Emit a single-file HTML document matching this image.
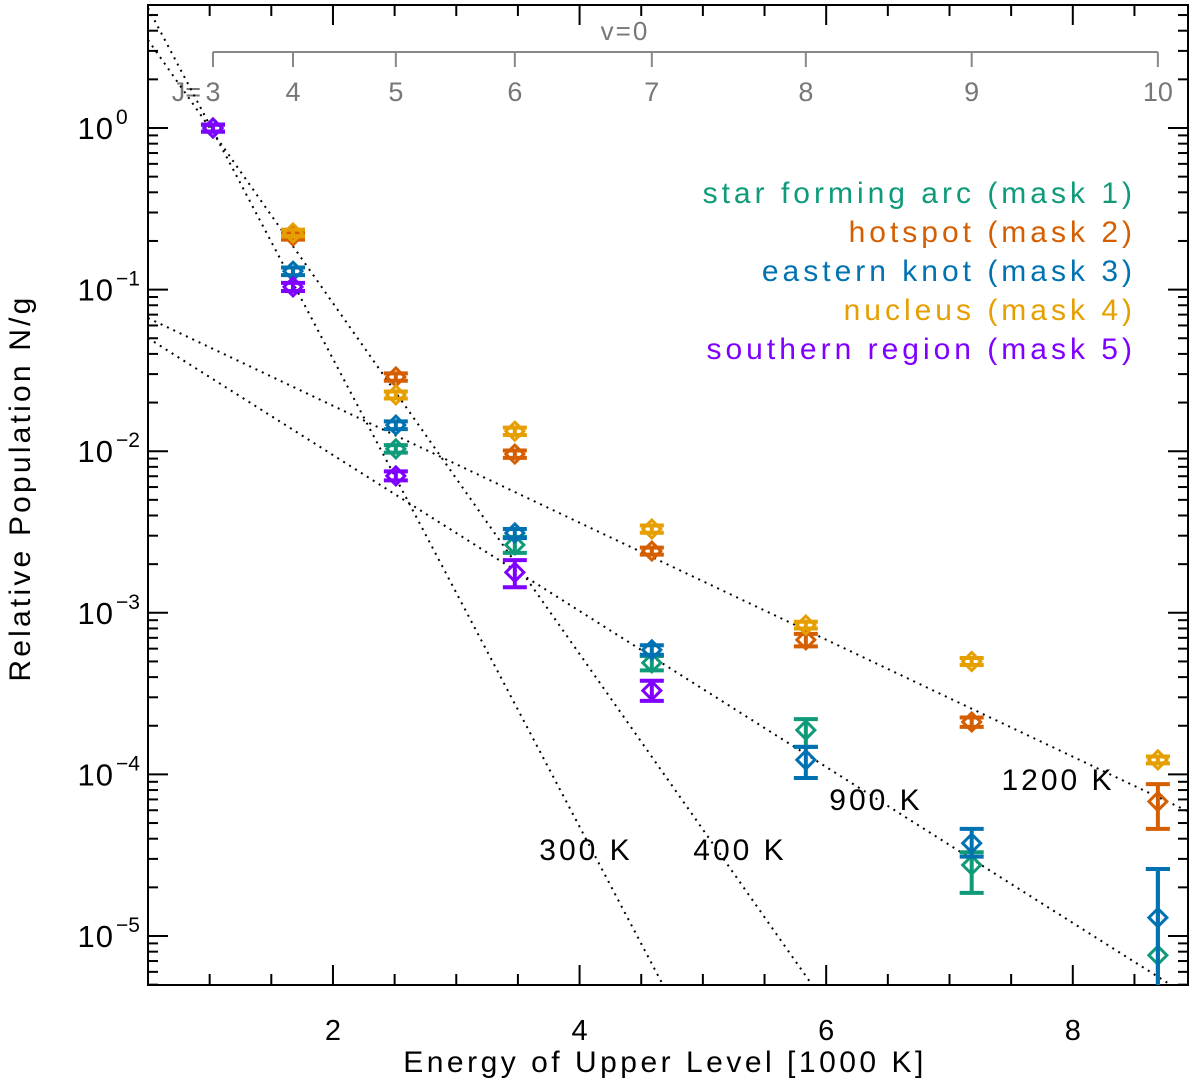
<!DOCTYPE html>
<html><head><meta charset="utf-8"><style>
html,body{margin:0;padding:0;background:#fff;overflow:hidden;width:1200px;height:1082px}
svg{display:block;font-family:"Liberation Sans","DejaVu Sans",sans-serif}
</style></head><body>
<svg id="chart" width="1200" height="1082" viewBox="0 0 1200 1082" xmlns="http://www.w3.org/2000/svg">
<g id="axes"></g>
<g id="fits"></g>
<g id="marks"></g>
<g id="legend" font-size="30" text-anchor="end" letter-spacing="4">
<text x="1136" y="203" fill="#0F9A7A">star forming arc (mask 1)</text>
<text x="1136" y="242" fill="#D55E00">hotspot (mask 2)</text>
<text x="1136" y="281" fill="#0072B2">eastern knot (mask 3)</text>
<text x="1136" y="320" fill="#E69F00">nucleus (mask 4)</text>
<text x="1136" y="359" fill="#8000FF">southern region (mask 5)</text>
</g>
<text x="665" y="1072" font-size="30" text-anchor="middle" letter-spacing="3.5">Energy of Upper Level [1000 K]</text>
<text x="0" y="0" font-size="30" text-anchor="middle" letter-spacing="3.2" transform="translate(30,488) rotate(-90)">Relative Population N/g</text>
</svg>
<script>
const energies=[1.027,1.676,2.51,3.475,4.586,5.835,7.18,8.69];
const jLabels=["3","4","5","6","7","8","9","10"];
const xTicks=[2,4,6,8];
const yTicks=[0,-1,-2,-3,-4,-5];
const mask1=[1.0,null,0.01033,0.00263,0.00049,0.000188,0.0000275,0.0000076];
const mask1Hi=[1.05,null,0.0109,0.00295,0.00054,0.00022,0.000033,0.000026];
const mask1Lo=[0.95,null,0.0098,0.00235,0.00044,0.000148,0.0000185,0.000001];
const mask2=[null,0.215,0.0288,0.0096,0.00241,0.00068,0.000211,0.000068];
const mask2Hi=[null,0.226,0.0303,0.0101,0.00253,0.00074,0.000225,0.000087];
const mask2Lo=[null,0.204,0.0273,0.0091,0.00229,0.00062,0.000197,0.000046];
const mask3=[1.0,0.13,0.0145,0.00312,0.00059,0.000123,0.0000375,0.000013];
const mask3Hi=[1.05,0.137,0.0153,0.0033,0.00063,0.000148,0.000046,0.000026];
const mask3Lo=[0.95,0.123,0.0137,0.0029,0.00055,0.000095,0.000031,0.000001];
const mask4=[null,0.224,0.0223,0.0133,0.0033,0.00084,0.0005,0.000123];
const mask4Hi=[null,0.235,0.0234,0.014,0.00347,0.00088,0.000525,0.000129];
const mask4Lo=[null,0.213,0.0212,0.0126,0.00313,0.0008,0.000475,0.000117];
const mask5=[1.0,0.104,0.00703,0.00178,0.00033,null,null,null];
const mask5Hi=[1.05,0.11,0.0075,0.00212,0.00038,null,null,null];
const mask5Lo=[0.95,0.098,0.0066,0.00144,0.000285,null,null,null];
const fitTemps=[300,400,900,1200];
const fitIntercepts=[0.743,0.545,-1.30,-1.176];

const NS="http://www.w3.org/2000/svg";
const X0=148,X1=1188,Y0=5,Y1=985;
const EMIN=0.5,EMAX=(1188-86.4)/123.3;
const LTOP=(128-5)/161.6,LBOT=(128-985)/161.6;
function xs(e){return X0+(e-EMIN)/(EMAX-EMIN)*(X1-X0);}
function ysl(l){return Y0+(LTOP-l)/(LTOP-LBOT)*(Y1-Y0);}
function ys(v){return ysl(Math.log10(v));}
function mk(tag,attrs,parent){const el=document.createElementNS(NS,tag);for(const k in attrs)el.setAttribute(k,attrs[k]);parent.appendChild(el);return el;}
const axes=document.getElementById('axes');
let f=mk('rect',{x:X0,y:Y0,width:X1-X0,height:Y1-Y0,fill:'none',stroke:'#000','stroke-width':2},axes);


for(let e=0.5;e<=EMAX+1e-6;e+=0.5){
  const major=Math.abs(e-Math.round(e))<1e-6&&Math.round(e)%2===0;
  const L=major?20:11,x=xs(e);
  let t=mk('line',{x1:x,x2:x,y1:Y1,y2:Y1-L,stroke:'#000','stroke-width':2},axes);
  
  
  let t2=mk('line',{x1:x,x2:x,y1:Y0,y2:Y0+L,stroke:'#000','stroke-width':2},axes);
  
  
}
xTicks.forEach(v=>{
  let t=mk('text',{x:xs(v),y:1040,'font-size':29,'text-anchor':'middle'},axes);t.textContent=v;
  
  
});
for(let d=1;d>=-6;d--){
  for(let m=1;m<=9;m++){
    const l=d+Math.log10(m);
    if(l>LTOP||l<LBOT)continue;
    const L=m===1?20:10,y=ysl(l);
    let t=mk('line',{x1:X0,x2:X0+L,y1:y,y2:y,stroke:'#000','stroke-width':2},axes);
    
    
    let t2=mk('line',{x1:X1,x2:X1-L,y1:y,y2:y,stroke:'#000','stroke-width':2},axes);
    
    
  }
}
yTicks.forEach(l=>{
  const y=ysl(l);
  let t=mk('text',{x:114,y:y+11,'font-size':31,'text-anchor':'end','letter-spacing':1},axes);t.textContent='10';
  
  
  let s=mk('text',{x:116,y:y-4,'font-size':21,'text-anchor':'start'},axes);s.textContent=(l===0?'0':'\u2212'+(-l));
  
  
});
let ja=mk('line',{x1:xs(energies[0]),x2:xs(energies[energies.length-1]),y1:52,y2:52,stroke:'#888','stroke-width':2},axes);


energies.forEach((e,i)=>{
  let t=mk('line',{x1:xs(e),x2:xs(e),y1:52,y2:67,stroke:'#888','stroke-width':2},axes);
  
  
  let lb=mk('text',{x:xs(e),y:101,'font-size':27,'text-anchor':'middle',fill:'#777'},axes);lb.textContent=jLabels[i];
  
  
});
let jl=mk('text',{x:xs(energies[0])-12,y:101,'font-size':27,'text-anchor':'end',fill:'#777'},axes);jl.textContent='J=';


let vl=mk('text',{x:625,y:40,'font-size':26,'text-anchor':'middle',fill:'#777','letter-spacing':2},axes);vl.textContent='v=0';


const fits=document.getElementById('fits');
const cp=mk('clipPath',{id:'clip'},fits);mk('rect',{x:X0,y:Y0,width:X1-X0,height:Y1-Y0},cp);
fitTemps.forEach((T,i)=>{
  const slope=-1000/T*Math.LOG10E;
  const l0=fitIntercepts[i],l1=l0+slope*(EMAX-EMIN);
  let ln=mk('line',{x1:xs(EMIN),y1:ysl(l0),x2:xs(EMAX),y2:ysl(l1),stroke:'#000','stroke-width':2,'stroke-dasharray':'2 5','clip-path':'url(#clip)'},fits);
  
  
});
const lab=[[586,860,'300 K'],[740,860,'400 K'],[876,810,'900 K'],[1058,790,'1200 K']];
lab.forEach(a=>{
  let t=mk('text',{x:a[0],y:a[1],'font-size':30,'text-anchor':'middle','letter-spacing':3},fits);t.textContent=a[2];
  
  
});
const marks=document.getElementById('marks');
const series=[[mask1,mask1Hi,mask1Lo,'#0F9A7A','mask1'],[mask2,mask2Hi,mask2Lo,'#D55E00','mask2'],[mask3,mask3Hi,mask3Lo,'#0072B2','mask3'],[mask4,mask4Hi,mask4Lo,'#E69F00','mask4'],[mask5,mask5Hi,mask5Lo,'#8000FF','mask5']];
series.forEach(s=>{
  const g=mk('g',{},marks);
  
  
  s[0].forEach((v,i)=>{
    if(v===null)return;
    const x=xs(energies[i]),y=ys(v);
    const yh=ys(s[1][i]),yl=Math.min(ys(s[2][i]),Y1);
    let eb=mk('path',{d:`M${x-12},${yh}H${x+12}M${x},${yh}V${yl}`+(yl<Y1?`M${x-12},${yl}H${x+12}`:''),stroke:s[3],'stroke-width':4,fill:'none'},g);
    
    
    let d=mk('path',{d:`M${x},${y-9}L${x+9},${y}L${x},${y+9}L${x-9},${y}Z`,stroke:s[3],'stroke-width':3,fill:'none'},g);
    
    
  });
});
</script>
</body></html>
